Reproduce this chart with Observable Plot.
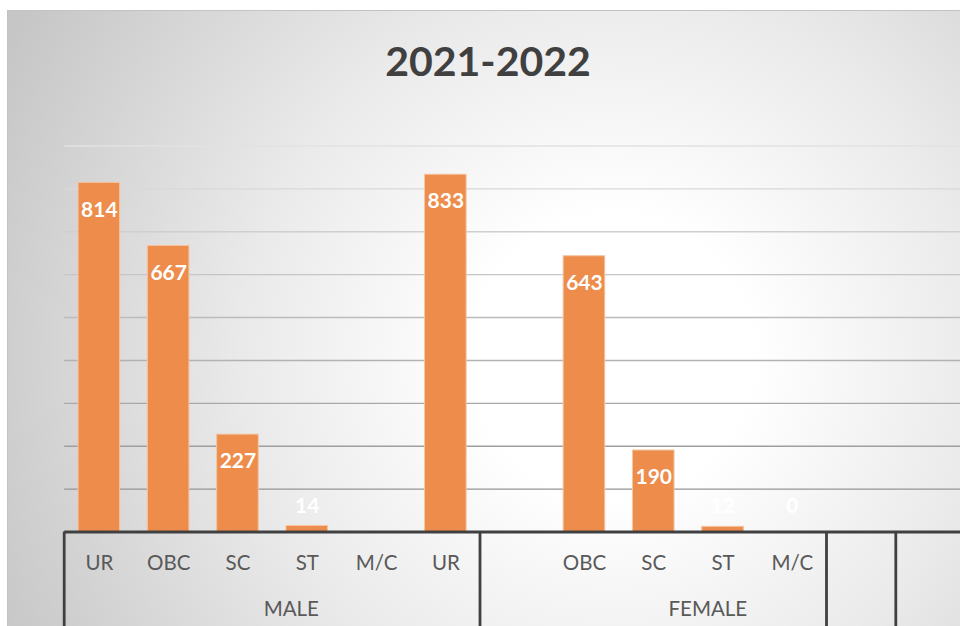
<!DOCTYPE html>
<html><head><meta charset="utf-8">
<script src="https://cdn.jsdelivr.net/npm/d3@7"></script>
<script src="https://cdn.jsdelivr.net/npm/@observablehq/plot@0.6"></script>
<style>
html,body{margin:0;padding:0;background:#fff;width:960px;height:626px;overflow:hidden;}
#bg{position:absolute;left:7px;top:10px;width:975px;height:640px;border-top:1.5px solid #c3c3c3;border-left:1.5px solid #c3c3c3;
background:radial-gradient(circle at 605px 345px,#ffffff 0px,#ffffff 140px,#eaeaea 370px,#c6c6c6 680px);}
#chart{position:absolute;left:0;top:0;}
</style></head><body>
<div id="bg"></div><div id="chart"></div>
<script>
const title = "2021-2022";
const categories = ["UR","OBC","SC","ST","M/C","UR","","OBC","SC","ST","M/C","",""];
const values = [814,667,227,14,null,833,null,643,190,12,0,null,null];
const groupNames = ["MALE","FEMALE","",""];
const groupSizes = [6,5,1,1];
const yTicks = [0,100,200,300,400,500,600,700,800,900];

const rows = categories.map((c,i)=>({i, cat:c, value: values[i]}));
const boundaries = [0];
groupSizes.forEach(s=>boundaries.push(boundaries[boundaries.length-1]+s));
const groups = groupNames.map((g,k)=>({name:g, start:boundaries[k], end:boundaries[k+1]}));
const groupShift = [0.27, 0.78, 0, 0]; // layout: label offset within group (slots)

const W = 960, H = 626;
const mL = 64.2, slot = 69.3;
const mT = 145.5, mB = 94.5;

function categoryFrame(index, scales, values, dims) {
  const {x} = scales;
  const g = d3.create("svg:g");
  const y0 = dims.height - dims.marginBottom;
  for (const b of boundaries) {
    g.append("line").attr("x1", x(b)).attr("x2", x(b)).attr("y1", y0).attr("y2", dims.height)
      .attr("stroke", "#404040").attr("stroke-width", 2.8);
  }
  return g.node();
}

const svg = Plot.plot({
  width: W, height: H,
  marginLeft: mL, marginRight: 0, marginTop: mT, marginBottom: mB,
  style: {background: "transparent", overflow: "visible", fontFamily: "Lato, 'Open Sans', sans-serif"},
  x: {type: "linear", domain: [0, categories.length], range: [mL, mL + slot*categories.length], axis: null},
  y: {domain: [0, 900], axis: null},
  marks: [
    Plot.ruleY(yTicks.filter(t=>t>0), {stroke: "url(#gridGrad)", strokeWidth: 1.4}),
    Plot.rectY(rows.filter(d=>d.value>0), {x1: d=>d.i+0.2, x2: d=>d.i+0.8, y: "value",
      fill: "#ed8c4b", stroke: "#f5c4a2", strokeWidth: 1}),
    Plot.ruleY([0], {stroke: "#404040", strokeWidth: 3}),
    categoryFrame,
    Plot.text(rows.filter(d=>d.value != null && d.value >= 100), {x: d=>d.i+0.5, y: "value", text: d=>String(d.value),
      dy: 27, lineAnchor: "middle", fill: "white", fontWeight: "bold", fontSize: 21}),
    Plot.text(rows.filter(d=>d.value != null && d.value < 100), {x: d=>d.i+0.5, y: ()=>0, text: d=>String(d.value),
      dy: -26, lineAnchor: "middle", fill: "white", fontWeight: "bold", fontSize: 21}),
    Plot.text(rows, {x: d=>d.i+0.5, text: "cat", frameAnchor: "bottom", lineAnchor: "middle", dy: 31, fill: "#595959", fontSize: 20.5}),
    Plot.text(groups.filter(g=>g.name), {x: (g)=>(g.start+g.end)/2 + groupShift[groups.indexOf(g)], text: "name",
      frameAnchor: "bottom", lineAnchor: "middle", dy: 77.5, fill: "#595959", fontSize: 20.5}),
    Plot.text([title], {frameAnchor: "top", lineAnchor: "middle", dx: -24.6, dy: -83, fill: "#404040", fontWeight: "bold", fontSize: 41})
  ]
});

d3.select(svg).insert("defs", ":first-child").html(
  `<linearGradient id="gridGrad" gradientUnits="userSpaceOnUse" x1="0" y1="145" x2="0" y2="489">
     <stop offset="0" stop-color="#e2e2e2"/><stop offset="1" stop-color="#959595"/>
   </linearGradient>`);
document.getElementById("chart").appendChild(svg);
</script>
</body></html>
